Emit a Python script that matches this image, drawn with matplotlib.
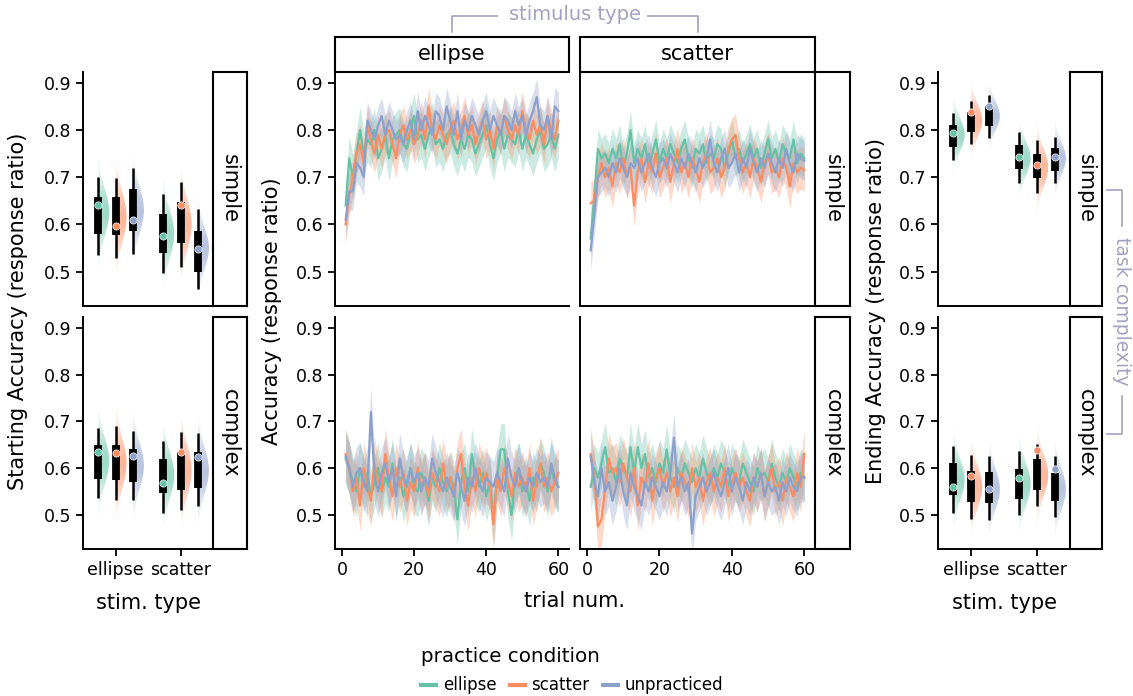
import numpy as np
import matplotlib
matplotlib.use("Agg")
import matplotlib.pyplot as plt
from matplotlib.patches import Polygon
from matplotlib.lines import Line2D

# ---------------- data ----------------
practice = ["ellipse", "scatter", "unpracticed"]
stim_types = ["ellipse", "scatter"]
colors = ["#66c2a5", "#fc8d62", "#8da0cb"]
trials = np.arange(1, 61)

# order of 6 entries: stim ellipse [ellipse, scatter, unpracticed], stim scatter [ellipse, scatter, unpracticed]
start_simple_q1 = [0.579, 0.577, 0.586, 0.540, 0.560, 0.499]
start_simple_q3 = [0.659, 0.659, 0.674, 0.623, 0.647, 0.587]
start_simple_lo = [0.536, 0.528, 0.537, 0.496, 0.510, 0.464]
start_simple_hi = [0.701, 0.698, 0.720, 0.664, 0.690, 0.632]
start_simple_pt = [0.641, 0.596, 0.610, 0.575, 0.642, 0.547]
start_simple_vc = [0.625, 0.615, 0.630, 0.580, 0.600, 0.550]
start_simple_vsd = [0.050, 0.055, 0.050, 0.050, 0.055, 0.045]

start_complex_q1 = [0.576, 0.574, 0.570, 0.547, 0.554, 0.557]
start_complex_q3 = [0.649, 0.650, 0.641, 0.619, 0.635, 0.634]
start_complex_lo = [0.537, 0.532, 0.532, 0.504, 0.511, 0.519]
start_complex_hi = [0.686, 0.689, 0.679, 0.658, 0.677, 0.675]
start_complex_pt = [0.634, 0.632, 0.626, 0.569, 0.635, 0.623]
start_complex_vc = [0.615, 0.610, 0.605, 0.585, 0.595, 0.595]
start_complex_vsd = [0.050, 0.055, 0.050, 0.050, 0.055, 0.050]

end_simple_q1 = [0.763, 0.796, 0.809, 0.717, 0.698, 0.713]
end_simple_q3 = [0.811, 0.838, 0.850, 0.768, 0.750, 0.762]
end_simple_lo = [0.736, 0.770, 0.784, 0.687, 0.667, 0.687]
end_simple_hi = [0.836, 0.862, 0.874, 0.795, 0.779, 0.786]
end_simple_pt = [0.794, 0.838, 0.850, 0.743, 0.726, 0.742]
end_simple_vc = [0.790, 0.820, 0.830, 0.740, 0.720, 0.740]
end_simple_vsd = [0.035, 0.035, 0.032, 0.035, 0.040, 0.035]

end_complex_q1 = [0.543, 0.527, 0.525, 0.533, 0.553, 0.530]
end_complex_q3 = [0.610, 0.594, 0.591, 0.599, 0.619, 0.589]
end_complex_lo = [0.504, 0.492, 0.490, 0.499, 0.520, 0.495]
end_complex_hi = [0.647, 0.629, 0.625, 0.637, 0.652, 0.626]
end_complex_pt = [0.560, 0.583, 0.555, 0.579, 0.638, 0.599]
end_complex_vc = [0.575, 0.560, 0.555, 0.565, 0.585, 0.555]
end_complex_vsd = [0.045, 0.045, 0.045, 0.045, 0.045, 0.045]

# trial-by-trial accuracy: stim ellipse / simple
es_ellipse = [0.64, 0.74, 0.70, 0.75, 0.80, 0.75, 0.78, 0.77, 0.80, 0.74,
              0.76, 0.79, 0.74, 0.78, 0.79, 0.80, 0.77, 0.76, 0.80, 0.83,
              0.78, 0.79, 0.76, 0.79, 0.81, 0.77, 0.78, 0.76, 0.79, 0.80,
              0.77, 0.75, 0.78, 0.76, 0.79, 0.78, 0.75, 0.77, 0.79, 0.81,
              0.77, 0.74, 0.78, 0.80, 0.76, 0.79, 0.78, 0.77, 0.80, 0.76,
              0.79, 0.77, 0.75, 0.78, 0.80, 0.76, 0.77, 0.79, 0.76, 0.79]
es_scatter = [0.60, 0.66, 0.70, 0.75, 0.77, 0.73, 0.81, 0.78, 0.75, 0.79,
              0.76, 0.79, 0.80, 0.77, 0.74, 0.79, 0.81, 0.78, 0.80, 0.77,
              0.79, 0.82, 0.78, 0.85, 0.80, 0.78, 0.81, 0.79, 0.77, 0.80,
              0.82, 0.78, 0.80, 0.83, 0.79, 0.81, 0.77, 0.80, 0.82, 0.78,
              0.80, 0.76, 0.81, 0.79, 0.83, 0.80, 0.78, 0.81, 0.79, 0.84,
              0.80, 0.78, 0.82, 0.79, 0.81, 0.77, 0.83, 0.80, 0.78, 0.82]
es_unpracticed = [0.61, 0.67, 0.67, 0.73, 0.72, 0.70, 0.82, 0.80, 0.78, 0.81,
                  0.83, 0.79, 0.82, 0.80, 0.78, 0.79, 0.77, 0.80, 0.82, 0.78,
                  0.84, 0.80, 0.83, 0.81, 0.79, 0.84, 0.83, 0.80, 0.85, 0.82,
                  0.79, 0.84, 0.78, 0.82, 0.80, 0.83, 0.81, 0.79, 0.82, 0.84,
                  0.80, 0.83, 0.81, 0.79, 0.83, 0.82, 0.80, 0.84, 0.81, 0.83,
                  0.79, 0.82, 0.84, 0.87, 0.81, 0.80, 0.83, 0.78, 0.85, 0.84]
# stim scatter / simple
ss_ellipse = [0.57, 0.66, 0.76, 0.74, 0.75, 0.73, 0.76, 0.74, 0.77, 0.72,
              0.75, 0.80, 0.73, 0.76, 0.74, 0.77, 0.72, 0.75, 0.78, 0.73,
              0.76, 0.74, 0.77, 0.75, 0.73, 0.76, 0.78, 0.74, 0.72, 0.76,
              0.75, 0.77, 0.73, 0.75, 0.74, 0.77, 0.76, 0.72, 0.75, 0.78,
              0.74, 0.76, 0.73, 0.75, 0.77, 0.74, 0.76, 0.72, 0.75, 0.78,
              0.74, 0.76, 0.73, 0.77, 0.75, 0.74, 0.78, 0.73, 0.75, 0.74]
ss_scatter = [0.645, 0.65, 0.70, 0.73, 0.70, 0.72, 0.68, 0.73, 0.71, 0.74,
              0.70, 0.72, 0.64, 0.71, 0.74, 0.69, 0.73, 0.71, 0.75, 0.70,
              0.72, 0.74, 0.69, 0.73, 0.76, 0.71, 0.73, 0.70, 0.74, 0.72,
              0.69, 0.73, 0.75, 0.71, 0.72, 0.74, 0.70, 0.72, 0.76, 0.78,
              0.79, 0.74, 0.71, 0.73, 0.70, 0.74, 0.72, 0.69, 0.73, 0.75,
              0.71, 0.72, 0.70, 0.74, 0.72, 0.68, 0.73, 0.71, 0.72, 0.715]
ss_unpracticed = [0.545, 0.62, 0.70, 0.71, 0.72, 0.70, 0.73, 0.71, 0.74, 0.72,
                  0.70, 0.73, 0.72, 0.74, 0.71, 0.73, 0.75, 0.72, 0.70, 0.73,
                  0.74, 0.72, 0.75, 0.73, 0.71, 0.74, 0.72, 0.75, 0.73, 0.71,
                  0.74, 0.72, 0.74, 0.78, 0.73, 0.71, 0.74, 0.76, 0.72, 0.73,
                  0.75, 0.71, 0.74, 0.72, 0.76, 0.73, 0.71, 0.74, 0.72, 0.75,
                  0.73, 0.71, 0.74, 0.72, 0.76, 0.73, 0.71, 0.75, 0.74, 0.735]
# stim ellipse / complex
ce_ellipse = [0.62, 0.60, 0.57, 0.55, 0.60, 0.56, 0.59, 0.54, 0.57, 0.60,
              0.55, 0.58, 0.56, 0.61, 0.55, 0.58, 0.54, 0.57, 0.60, 0.56,
              0.55, 0.59, 0.57, 0.53, 0.58, 0.56, 0.60, 0.57, 0.55, 0.58,
              0.56, 0.49, 0.57, 0.60, 0.55, 0.63, 0.58, 0.56, 0.59, 0.54,
              0.57, 0.49, 0.58, 0.64, 0.64, 0.55, 0.50, 0.58, 0.60, 0.55,
              0.57, 0.53, 0.58, 0.56, 0.61, 0.59, 0.55, 0.60, 0.57, 0.56]
ce_scatter = [0.63, 0.60, 0.55, 0.58, 0.52, 0.60, 0.56, 0.53, 0.61, 0.57,
              0.55, 0.63, 0.58, 0.54, 0.60, 0.56, 0.59, 0.53, 0.57, 0.55,
              0.60, 0.56, 0.58, 0.54, 0.59, 0.57, 0.55, 0.61, 0.56, 0.58,
              0.54, 0.60, 0.63, 0.56, 0.52, 0.58, 0.55, 0.60, 0.57, 0.59,
              0.56, 0.48, 0.58, 0.55, 0.60, 0.57, 0.54, 0.59, 0.56, 0.58,
              0.55, 0.60, 0.53, 0.57, 0.61, 0.56, 0.58, 0.55, 0.57, 0.59]
ce_unpracticed = [0.625, 0.60, 0.56, 0.59, 0.60, 0.57, 0.55, 0.72, 0.58, 0.55,
                  0.59, 0.61, 0.57, 0.60, 0.54, 0.62, 0.58, 0.56, 0.60, 0.57,
                  0.59, 0.55, 0.58, 0.56, 0.62, 0.59, 0.57, 0.55, 0.58, 0.56,
                  0.54, 0.59, 0.56, 0.53, 0.58, 0.56, 0.60, 0.57, 0.55, 0.58,
                  0.57, 0.56, 0.59, 0.57, 0.55, 0.62, 0.58, 0.56, 0.60, 0.57,
                  0.55, 0.58, 0.56, 0.59, 0.57, 0.58, 0.56, 0.61, 0.58, 0.56]
# stim scatter / complex
cs_ellipse = [0.56, 0.60, 0.58, 0.61, 0.645, 0.59, 0.60, 0.57, 0.62, 0.60,
              0.58, 0.645, 0.59, 0.645, 0.60, 0.63, 0.58, 0.60, 0.57, 0.61,
              0.59, 0.64, 0.58, 0.56, 0.60, 0.58, 0.61, 0.59, 0.57, 0.60,
              0.58, 0.62, 0.59, 0.57, 0.60, 0.58, 0.61, 0.59, 0.56, 0.60,
              0.58, 0.57, 0.61, 0.59, 0.57, 0.55, 0.60, 0.58, 0.59, 0.57,
              0.61, 0.58, 0.56, 0.59, 0.57, 0.60, 0.58, 0.56, 0.59, 0.58]
cs_scatter = [0.63, 0.58, 0.475, 0.49, 0.56, 0.62, 0.59, 0.60, 0.57, 0.61,
              0.58, 0.55, 0.60, 0.52, 0.58, 0.56, 0.61, 0.53, 0.58, 0.60,
              0.56, 0.59, 0.55, 0.58, 0.54, 0.59, 0.57, 0.55, 0.60, 0.56,
              0.58, 0.53, 0.57, 0.59, 0.55, 0.58, 0.56, 0.60, 0.54, 0.57,
              0.59, 0.56, 0.58, 0.55, 0.53, 0.58, 0.56, 0.59, 0.54, 0.57,
              0.60, 0.55, 0.57, 0.53, 0.58, 0.56, 0.54, 0.59, 0.56, 0.63]
cs_unpracticed = [0.625, 0.57, 0.54, 0.60, 0.55, 0.57, 0.53, 0.56, 0.60, 0.55,
                  0.52, 0.59, 0.56, 0.54, 0.52, 0.57, 0.55, 0.58, 0.56, 0.54,
                  0.57, 0.55, 0.59, 0.665, 0.56, 0.58, 0.55, 0.57, 0.46, 0.54,
                  0.56, 0.58, 0.55, 0.57, 0.59, 0.56, 0.54, 0.57, 0.60, 0.55,
                  0.58, 0.56, 0.53, 0.57, 0.55, 0.58, 0.56, 0.59, 0.54, 0.57,
                  0.55, 0.56, 0.53, 0.57, 0.55, 0.58, 0.56, 0.55, 0.58, 0.58]

# confidence band half-widths (ellipse, scatter, unpracticed)
es_band = [0.048, 0.042, 0.040]
ss_band = [0.042, 0.045, 0.042]
ce_band = [0.055, 0.055, 0.055]
cs_band = [0.052, 0.055, 0.052]

# ---------------- figure ----------------
W, H = 1133, 696
fig = plt.figure(figsize=(W / 100, H / 100), dpi=100)
plt.rcParams['font.family'] = ['DejaVu Sans']

YLIM = (0.427, 0.923)
YTICKS = [0.5, 0.6, 0.7, 0.8, 0.9]
TICK_FS = 12.5
LABEL_FS = 15
ANNO = "#a2a2c2"


def add_ax(x0, y0, x1, y1):
    return fig.add_axes([x0 / W, 1 - y1 / H, (x1 - x0) / W, (y1 - y0) / H])


def style(ax, show_y=True, show_x=True):
    for s in ["top", "right"]:
        ax.spines[s].set_visible(False)
    for s in ["left", "bottom"]:
        ax.spines[s].set_linewidth(1.4)
    ax.tick_params(direction="out", length=5, width=1.3, labelsize=TICK_FS)
    if not show_y:
        ax.tick_params(axis="y", left=False, labelleft=False)
    if not show_x:
        ax.tick_params(axis="x", bottom=False, labelbottom=False)


def strip(x0, y0, x1, y1, text, rot):
    s = add_ax(x0, y0, x1, y1)
    s.set_xticks([])
    s.set_yticks([])
    for sp in s.spines.values():
        sp.set_linewidth(1.5)
    s.text(0.5, 0.5, text, rotation=rot, ha="center", va="center",
           fontsize=LABEL_FS, transform=s.transAxes)
    return s


offsets = [-0.267, 0.0, 0.267]


def half_violin(ax, x, c, sd, color, width=0.17):
    ys = np.linspace(c - 3.3 * sd, c + 3.3 * sd, 200)
    d = np.exp(-0.5 * ((ys - c) / sd) ** 2)
    verts = [(x, ys[0])] + [(x + width * di, yi) for di, yi in zip(d, ys)] + [(x, ys[-1])]
    poly = Polygon(verts, closed=True, facecolor="none", edgecolor="none")
    ax.add_patch(poly)
    rgb = matplotlib.colors.to_rgb(color)
    img = np.zeros((len(ys), 2, 4))
    img[:, :, 0] = rgb[0]
    img[:, :, 1] = rgb[1]
    img[:, :, 2] = rgb[2]
    img[:, :, 3] = (0.62 * d)[:, None]
    im = ax.imshow(img, extent=(x, x + width, ys[0], ys[-1]), origin="lower",
                   aspect="auto", interpolation="bilinear", zorder=1)
    im.set_clip_path(poly)


def box_panel(ax, q1, q3, lo, hi, pt, vc, vsd):
    k = 0
    for si in range(2):
        for pi in range(3):
            x = si + offsets[pi]
            half_violin(ax, x, vc[k], vsd[k], colors[pi])
            ax.plot([x, x], [lo[k], hi[k]], color="black", lw=1.8,
                    solid_capstyle="butt", zorder=3)
            ax.plot([x, x], [q1[k], q3[k]], color="black", lw=5.6,
                    solid_capstyle="butt", zorder=4)
            ax.plot(x, pt[k], "o", color=colors[pi], ms=5.2, mec="white",
                    mew=0.5, zorder=5)
            k += 1
    ax.set_xlim(-0.5, 1.5)
    ax.set_ylim(*YLIM)
    ax.set_yticks(YTICKS)
    ax.set_xticks([0, 1])
    ax.set_xticklabels(stim_types)


def line_panel(ax, series, bands):
    for vals, hw, col in zip(series, bands, colors):
        v = np.array(vals)
        ax.fill_between(trials, v - hw, v + hw, color=col, alpha=0.33, lw=0)
    for vals, col in zip(series, colors):
        ax.plot(trials, vals, color=col, lw=1.6)
    ax.set_xlim(-1.95, 62.95)
    ax.set_ylim(*YLIM)
    ax.set_yticks(YTICKS)
    ax.set_xticks([0, 20, 40, 60])


# left: starting accuracy
ax = add_ax(83, 72, 213, 306)
box_panel(ax, start_simple_q1, start_simple_q3, start_simple_lo, start_simple_hi,
          start_simple_pt, start_simple_vc, start_simple_vsd)
style(ax, show_x=False)
ax = add_ax(83, 317, 213, 549)
box_panel(ax, start_complex_q1, start_complex_q3, start_complex_lo, start_complex_hi,
          start_complex_pt, start_complex_vc, start_complex_vsd)
style(ax)
strip(213, 72, 247, 306, "simple", 270)
strip(213, 317, 247, 549, "complex", 270)

# right: ending accuracy
ax = add_ax(938, 72, 1070, 306)
box_panel(ax, end_simple_q1, end_simple_q3, end_simple_lo, end_simple_hi,
          end_simple_pt, end_simple_vc, end_simple_vsd)
style(ax, show_x=False)
ax = add_ax(938, 317, 1070, 549)
box_panel(ax, end_complex_q1, end_complex_q3, end_complex_lo, end_complex_hi,
          end_complex_pt, end_complex_vc, end_complex_vsd)
style(ax)
strip(1070, 72, 1102, 306, "simple", 270)
strip(1070, 317, 1102, 549, "complex", 270)

# middle: trial-by-trial
ax = add_ax(335, 72, 569, 306)
line_panel(ax, [es_ellipse, es_scatter, es_unpracticed], es_band)
style(ax, show_x=False)
ax = add_ax(580, 72, 815, 306)
line_panel(ax, [ss_ellipse, ss_scatter, ss_unpracticed], ss_band)
style(ax, show_x=False, show_y=False)
ax = add_ax(335, 317, 569, 549)
line_panel(ax, [ce_ellipse, ce_scatter, ce_unpracticed], ce_band)
style(ax)
ax = add_ax(580, 317, 815, 549)
line_panel(ax, [cs_ellipse, cs_scatter, cs_unpracticed], cs_band)
style(ax, show_y=False)
strip(335, 37, 569, 72, "ellipse", 0)
strip(580, 37, 815, 72, "scatter", 0)
strip(815, 72, 850, 306, "simple", 270)
strip(815, 317, 850, 549, "complex", 270)

# axis labels
def ftext(x, y, s, **kw):
    fig.text(x / W, 1 - y / H, s, ha="center", va="center", **kw)

ftext(18, 311, "Starting Accuracy (response ratio)", rotation=90, fontsize=LABEL_FS)
ftext(272, 311, "Accuracy (response ratio)", rotation=90, fontsize=LABEL_FS)
ftext(876, 311, "Ending Accuracy (response ratio)", rotation=90, fontsize=LABEL_FS)
ftext(148, 603, "stim. type", fontsize=LABEL_FS)
ftext(575, 601, "trial num.", fontsize=LABEL_FS)
ftext(1004, 603, "stim. type", fontsize=LABEL_FS)

# facet annotations
ftext(575, 15, "stimulus type", fontsize=14, color=ANNO)
ftext(1122, 311, "task complexity", rotation=270, fontsize=13.5, color=ANNO)


def fline(pts):
    xs = [p[0] / W for p in pts]
    ys = [1 - p[1] / H for p in pts]
    fig.add_artist(Line2D(xs, ys, color=ANNO, lw=1.2, transform=fig.transFigure))

fline([(452, 32), (452, 16), (497, 16)])
fline([(648, 16), (698, 16), (698, 32)])
fline([(1107, 190), (1122, 190), (1122, 226)])
fline([(1122, 396), (1122, 434), (1107, 434)])

# legend
handles = [Line2D([], [], color=c, lw=3) for c in colors]
fig.legend(handles, practice, title="practice condition", ncol=3, frameon=False,
           loc="center", bbox_to_anchor=(572 / W, 1 - 671 / H),
           fontsize=12, title_fontsize=14.3, handlelength=0.9,
           handletextpad=0.4, columnspacing=0.8, alignment="left",
           borderpad=0.2, labelspacing=0.6)

fig.savefig("out.png", dpi=100)
